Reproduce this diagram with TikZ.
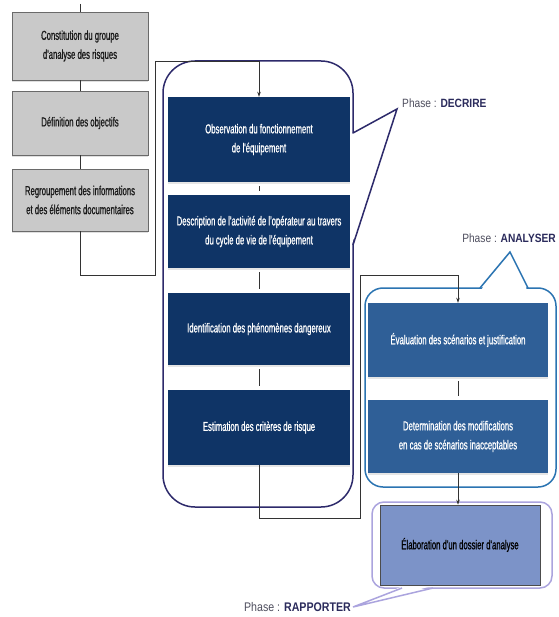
\documentclass[tikz,border=0pt]{standalone}
\usepackage{fontspec}
\setmainfont{Liberation Sans}
\newfontfamily\cond[FakeStretch=0.595,FakeBold=0.8]{Liberation Sans}
\newfontfamily\phf[FakeStretch=0.85]{Liberation Sans}
\usetikzlibrary{arrows.meta,shadows}
\definecolor{navy}{HTML}{0F3466}
\definecolor{grayf}{HTML}{C9C9C9}
\definecolor{graybd}{HTML}{6A6A6A}
\definecolor{decbd}{HTML}{2D2A6B}
\definecolor{anabd}{HTML}{2B74B2}
\definecolor{anaf}{HTML}{2F5F97}
\definecolor{rapbd}{HTML}{ABA4DE}
\definecolor{rapf}{HTML}{7C93C8}
\definecolor{phgray}{HTML}{4E4E5E}
\definecolor{phbold}{HTML}{2B2B5C}
\tikzset{
  boxtext/.style={align=center, inner sep=0pt, font=\cond\fontsize{13}{19}\selectfont},
  graybox/.style={boxtext, draw=graybd, line width=0.8pt, fill=grayf, minimum width=136pt, text=black!90,
     drop shadow={opacity=0.25, shadow xshift=0pt, shadow yshift=-2pt}},
  navybox/.style={boxtext, fill=navy, text=white, minimum width=182pt,
     drop shadow={opacity=0.2, shadow xshift=0pt, shadow yshift=-2pt}},
  anabox/.style={boxtext, fill=anaf, text=white, minimum width=180pt,
     drop shadow={opacity=0.2, shadow xshift=0pt, shadow yshift=-2pt}},
  rapbox/.style={boxtext, draw=black!70, line width=0.6pt, fill=rapf, text=black, minimum width=160pt},
  conn/.style={draw=black!80, line width=0.7pt},
  connarrow/.style={conn, -{Stealth[length=5pt,width=3.5pt]}},
  stub/.style={draw=black!80, line width=0.8pt, shorten <=4pt, shorten >=4pt},
  phase/.style={inner sep=0pt, text=phgray, font=\phf\fontsize{12}{14}\selectfont}
}
\begin{document}
\begin{tikzpicture}[x=1pt,y=-1pt]
\useasboundingbox (0,0) rectangle (558,617);
\fill[white] (0,0) rectangle (558,617);

% containers
\draw[decbd, line width=1.5pt, rounded corners=32pt] (163,61) rectangle (353,507);
\fill[white] (352,134) -- (397,109) -- (352,244) -- cycle;
\draw[decbd, line width=1.5pt, line join=miter] (353,133) -- (397,109) -- (353,245);

\draw[anabd, line width=1.5pt, rounded corners=18pt] (365,288) rectangle (556,487);
\fill[white] (481,290) -- (510,252) -- (527,290) -- cycle;
\draw[anabd, line width=1.5pt, line join=miter] (480,288) -- (510,252) -- (528,288);

\draw[rapbd, line width=1.5pt, rounded corners=12pt] (372,502) rectangle (552,588);
\fill[white] (403,586) -- (353,607) -- (432,586) -- cycle;
\draw[rapbd, line width=1.5pt, line join=miter] (402,588) -- (353,607) -- (433,588);

% phase labels
\node[phase, anchor=west] (pd) at (402,103) {Phase : \textbf{\color{phbold}DECRIRE}};
\node[phase, anchor=east] (pa) at (556,238) {Phase : \textbf{\color{phbold}ANALYSER}};
\node[phase, anchor=east, font=\phf\fontsize{12.5}{14}\selectfont] (pr) at (351,607) {Phase : \textbf{\color{phbold}RAPPORTER}};

% gray boxes
\node[graybox, minimum height=68pt] (g1) at (80,46) {Constitution du groupe\\d'analyse des risques};
\node[graybox, minimum height=64pt] (g2) at (80,123) {Définition des objectifs};
\node[graybox, minimum height=62pt] (g3) at (80,200) {Regroupement des informations\\et des éléments documentaires};

% navy boxes
\node[navybox, minimum height=85pt] (d1) at (259,139.5) {Observation du fonctionnement\\de l'équipement};
\node[navybox, minimum height=73pt] (d2) at (259,231.5) {Description de l'activité de l'opérateur au travers\\du cycle de vie de l'équipement};
\node[navybox, minimum height=72pt] (d3) at (259,329) {Identification des phénomènes dangereux};
\node[navybox, minimum height=75pt] (d4) at (259,427.5) {Estimation des critères de risque};

% analyser boxes
\node[anabox, minimum height=74pt] (a1) at (458,340) {Évaluation des scénarios et justification};
\node[anabox, minimum height=73pt] (a2) at (458,436.5) {Determination des modifications\\en cas de scénarios inacceptables};

% rapporter box
\node[rapbox, minimum height=80pt] (r1) at (460,545) {Élaboration d'un dossier d'analyse};

% coordinates
\coordinate (k0) at (80,4);
\coordinate (k3) at (155,275);
\coordinate (k4) at (155,61);
\coordinate (k1) at (360,518);
\coordinate (k2) at (360,275);

% connectors
\draw[conn] (k0) -- (g1.north);
\draw[conn] (g1.south) -- (g2.north);
\draw[conn] (g2.south) -- (g3.north);
\draw[connarrow] (g3.south) |- (k3) -- (k4) -| (d1.north);
\draw[stub] (d1.south) -- (d2.north);
\draw[stub] (d2.south) -- (d3.north);
\draw[stub] (d3.south) -- (d4.north);
\draw[connarrow] (d4.south) |- (k1) -- (k2) -| (a1.north);
\draw[stub] (a1.south) -- (a2.north);
\draw[connarrow] (a2.south) -- (a2.south |- r1.north);
\end{tikzpicture}
\end{document}
